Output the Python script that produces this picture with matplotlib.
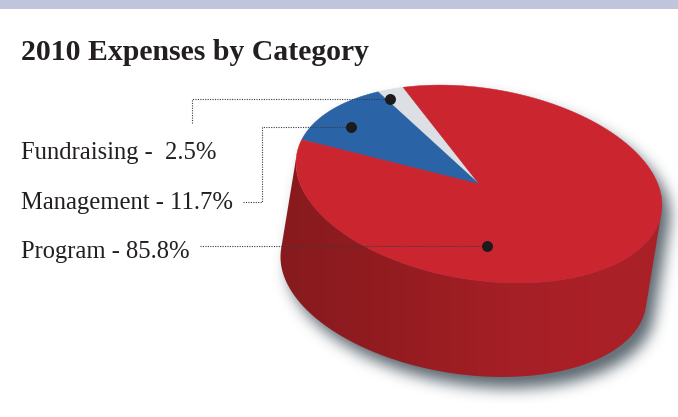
import numpy as np
import matplotlib
matplotlib.use("Agg")
import matplotlib.pyplot as plt
from matplotlib.patches import Polygon

# EXPENSE SHARES
categories = ["Fundraising", "Management", "Program"]
shares = [2.5, 11.7, 85.8]
share_text = ["2.5%", "11.7%", "85.8%"]
slice_colors = ["#dcdfe3", "#2a64a6", "#cb2530"]

# WHERE THE LEADER DOT SITS INSIDE EACH SLICE (ALONG THE SWEEP, FROM THE CENTRE)
dot_sweep = [0.85, 0.58, 0.35]
dot_radius = [0.91, 0.825, 0.634]

W, H = 678, 417
CX, CY = 479.0, 184.0
RX, RY, SKEW = 183.0, 96.7, 21.0
DROP_X, DROP_Y = -15.5, 94.0
START = -114.5
INK = "#231f20"


def rim(t_deg, r=1.0, dx=0.0, dy=0.0):
    t = np.radians(t_deg)
    x = CX + dx + r * RX * np.cos(t)
    y = CY + dy + r * (RY * np.sin(t) + SKEW * np.cos(t))
    return x, y


def disc_mask(xx, yy, dx, dy):
    u = (xx - CX - dx) / RX
    v = (yy - CY - dy - SKEW * u) / RY
    return u ** 2 + v ** 2 <= 1


def box_blur(a, size):
    kernel = np.ones(size) / size
    for axis in (0, 1):
        a = np.apply_along_axis(np.convolve, axis, a, kernel, mode="same")
    return a


fig = plt.figure(figsize=(W / 100, H / 100), dpi=100)
ax = fig.add_axes([0, 0, 1, 1])
ax.set_xlim(0, W)
ax.set_ylim(H, 0)
ax.axis("off")

# HEADER BAND
ax.fill_between([0, W], 0, 9, color="#c0c5dc", lw=0)

# SOFT DROP SHADOW UNDER THE DISC
xx, yy = np.meshgrid(np.arange(W) + 0.5, np.arange(H) + 0.5)
mask = np.zeros((H, W))
for f in np.linspace(0, 1, 30):
    mask = np.maximum(mask, disc_mask(xx, yy, DROP_X * f + 8, DROP_Y * f + 11))
for size in (15, 15, 13):
    mask = box_blur(mask, size)
shadow = np.zeros((H, W, 4))
shadow[..., :3] = matplotlib.colors.to_rgb("#68737b")
shadow[..., 3] = np.clip(mask * 1.1, 0, 1)
ax.imshow(shadow, extent=(0, W, H, 0), aspect="auto", zorder=1,
          interpolation="bilinear")

# SIDE WALL WITH A LEFT TO RIGHT SHADE
tangent = np.degrees(np.arctan2(RY * DROP_X, SKEW * DROP_X - RX * DROP_Y))
tangent = tangent % 180
low = np.linspace(tangent, tangent + 180, 200)
bx, by = rim(low, dx=DROP_X, dy=DROP_Y)
tx, ty = rim(low[::-1])
wall = Polygon(np.column_stack([np.r_[bx, tx], np.r_[by, ty]]),
               closed=True, fc="none", ec="none", transform=ax.transData)
ax.add_patch(wall)
stops = np.array([[0x86, 0x1a, 0x1e], [0x93, 0x1c, 0x20], [0xa5, 0x1f, 0x26],
                  [0xab, 0x20, 0x27], [0xaa, 0x20, 0x27]]) / 255
pos = np.array([0.0, 0.3, 0.6, 0.8, 1.0])
ramp_x = np.linspace(0, 1, 400)
ramp = np.stack([np.interp(ramp_x, pos, stops[:, i]) for i in range(3)], axis=-1)
img = ax.imshow(ramp[np.newaxis, :, :], extent=(270, 670, 400, 120),
                aspect="auto", zorder=2)
img.set_clip_path(wall)
ax.set_xlim(0, W)
ax.set_ylim(H, 0)

# TOP FACE, ONE SLICE PER SHARE, SWEEPING COUNTER-CLOCKWISE ON SCREEN
dots = []
angle = START
for share, color, sweep, radius in zip(shares, slice_colors, dot_sweep, dot_radius):
    span = share / sum(shares) * 360
    t = np.linspace(angle, angle - span, max(int(span * 2), 8))
    x, y = rim(t)
    ax.fill(np.r_[CX, x], np.r_[CY, y], color=color, lw=0.3, zorder=3)
    dots.append(rim(angle - span * sweep, r=radius))
    angle -= span

# LABELS
plt.rcParams["font.family"] = ["Liberation Serif", "DejaVu Serif"]
ax.text(21, 59.5, "2010 Expenses by Category", fontsize=21.4, fontweight="bold",
        color=INK, va="baseline", zorder=6)
label_y = [159, 209, 258]
gaps = ["  ", " ", " "]
for name, txt, gap, y in zip(categories, share_text, gaps, label_y):
    ax.text(21, y, name + " -" + gap + txt, fontsize=17.7, color=INK,
            va="baseline", zorder=6)

# LEADER LINES
dotted = dict(color="#3a3a3a", lw=0.8, linestyle=(0, (1, 1.2)), zorder=5)
ax.plot([192, 192, dots[0][0]], [123, dots[0][1], dots[0][1]], **dotted)
ax.plot([243, 262, 262, dots[1][0]], [202, 202, dots[1][1], dots[1][1]], **dotted)
ax.plot([200, dots[2][0]], [dots[2][1], dots[2][1]], **dotted)
ax.scatter([d[0] for d in dots], [d[1] for d in dots], s=62, color="#1c1a1b",
           lw=0, zorder=7)

fig.savefig("out.png", dpi=100)
